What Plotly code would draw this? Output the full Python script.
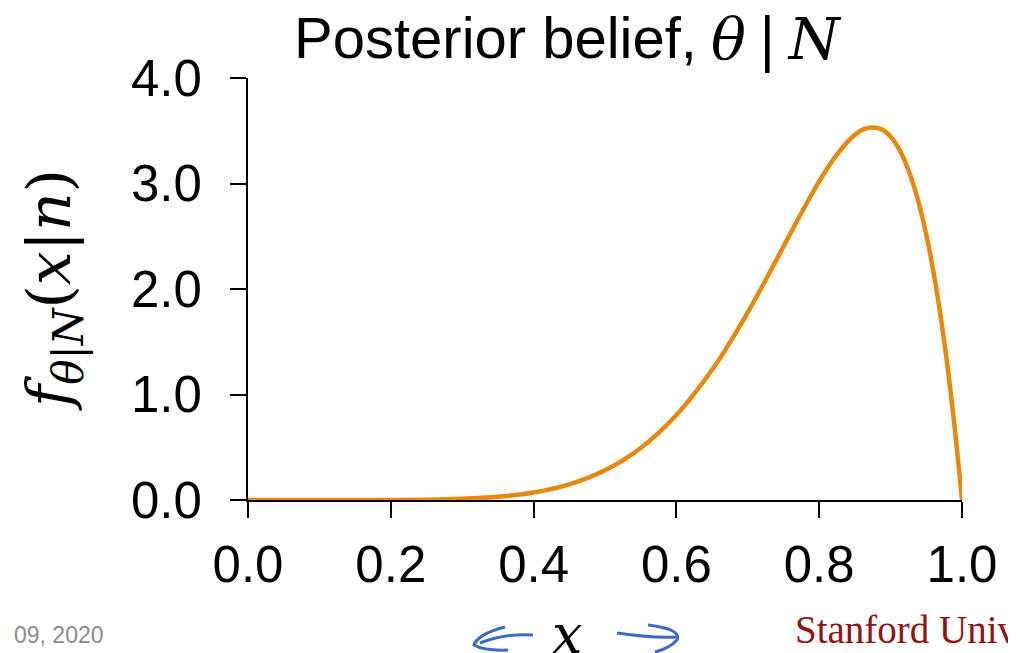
import plotly.graph_objects as go

# Values
x_vals = [0.0, 0.05, 0.10, 0.15, 0.20, 0.25, 0.30, 0.35, 0.40, 0.45, 0.50,
          0.55, 0.60, 0.65, 0.675, 0.70, 0.725, 0.75, 0.775, 0.80, 0.825,
          0.85, 0.8625, 0.875, 0.8875, 0.90, 0.9125, 0.925, 0.9375,
          0.95, 0.9625, 0.975, 0.9875, 1.0]
density = [0.0, 0.0, 0.0, 0.0, 0.0003, 0.003, 0.011, 0.030, 0.071, 0.148, 0.281,
           0.493, 0.806, 1.235, 1.494, 1.779, 2.085, 2.403, 2.720, 3.020, 3.277,
           3.463, 3.515, 3.530, 3.513, 3.444, 3.319, 3.126, 2.864,
           2.514, 2.066, 1.508, 0.824, 0.0]
x_ticks = [0.0, 0.2, 0.4, 0.6, 0.8, 1.0]
x_tick_text = ["0.0", "0.2", "0.4", "0.6", "0.8", "1.0"]
y_ticks = [0.0, 1.0, 2.0, 3.0, 4.0]
y_tick_text = ["0.0", "1.0", "2.0", "3.0", "4.0"]

OFF = 8  # page body margin
W, H = 1016 - OFF, 653 - OFF
L, T = 248 - OFF, 78 - OFF
R = W - (962 - OFF)
B = H - (500 - OFF)
PW = W - L - R
PH = H - T - B

ORANGE = "#E8890F"
MATH = "DejaVu Serif"
SANS = "Liberation Sans"

fig = go.Figure()
fig.add_trace(go.Scatter(
    x=x_vals, y=density, mode="lines",
    line=dict(color=ORANGE, width=4.5, shape="spline", smoothing=1.0),
    cliponaxis=False, hoverinfo="skip", showlegend=False,
))


def pxx(px):
    return (px - OFF - L) / PW


def pxy(py):
    return (H - B - (py - OFF)) / PH


annotations = [
    dict(text="Posterior belief,",
         x=pxx(292), y=pxy(37), xref="paper", yref="paper",
         xanchor="left", yanchor="middle", showarrow=False,
         font=dict(family=SANS, size=58, color="black")),
    dict(text="<i>θ</i>\u2009|\u2009<i>N</i>",
         x=pxx(776), y=pxy(39), xref="paper", yref="paper",
         xanchor="center", yanchor="middle", showarrow=False,
         font=dict(family=MATH, size=58, color="black")),
    dict(text="<i>f</i><sub><i>θ</i>|<i>N</i></sub>(<i>x</i>|<i>n</i>)",
         x=pxx(53), y=pxy(290), xref="paper", yref="paper",
         xanchor="center", yanchor="middle", textangle=-90, showarrow=False,
         font=dict(family=MATH, size=60, color="black")),
    dict(text="<i>x</i>",
         x=pxx(567), y=pxy(634), xref="paper", yref="paper",
         xanchor="center", yanchor="middle", showarrow=False,
         font=dict(family=MATH, size=54, color="black")),
    dict(text="09, 2020",
         x=pxx(12), y=pxy(635), xref="paper", yref="paper",
         xanchor="left", yanchor="middle", showarrow=False,
         font=dict(family=SANS, size=23, color="#8C8C8C")),
    dict(text="Stanford University",
         x=pxx(793), y=pxy(630), xref="paper", yref="paper",
         xanchor="left", yanchor="middle", showarrow=False,
         font=dict(family="Liberation Serif", size=39, color="#8C1515")),
]


def path_px(cmds):
    out = []
    for cmd, pts in cmds:
        coords = " ".join(f"{pxx(a):.5f},{pxy(b):.5f}" for a, b in pts)
        out.append(f"{cmd} {coords}")
    return " ".join(out)


BLUE = "#3A6BC6"
arrow_paths = [
    path_px([("M", [(533, 635)]), ("Q", [(505, 633), (480, 643)])]),
    path_px([("M", [(505, 627)]), ("Q", [(478, 634), (474, 645)]), ("Q", [(484, 651), (508, 650)])]),
    path_px([("M", [(617, 633)]), ("Q", [(650, 638), (677, 637)])]),
    path_px([("M", [(648, 625)]), ("Q", [(682, 629), (677, 640)]), ("Q", [(670, 648), (655, 652)])]),
]
shapes = [dict(type="path", xref="paper", yref="paper", path=p,
               line=dict(color=BLUE, width=3)) for p in arrow_paths]

axis_font = dict(family=SANS, size=51, color="black")
fig.update_layout(
    width=W, height=H,
    margin=dict(l=L, r=R, t=T, b=B, pad=0),
    paper_bgcolor="white", plot_bgcolor="white",
    font=dict(family=SANS, color="black"),
    annotations=annotations, shapes=shapes,
    xaxis=dict(range=[0, 1], tickvals=x_ticks, ticktext=x_tick_text,
               showgrid=False, zeroline=False, showline=True, linecolor="black",
               linewidth=2, ticks="outside", ticklen=16, tickwidth=2, tickcolor="black",
               tickfont=axis_font, layer="below traces", ticklabelstandoff=3),
    yaxis=dict(range=[0, 4], tickvals=y_ticks, ticktext=y_tick_text,
               showgrid=False, zeroline=False, showline=True, linecolor="black",
               linewidth=2, ticks="outside", ticklen=16, tickwidth=2, tickcolor="black",
               tickfont=axis_font, layer="below traces", ticklabelstandoff=18),
)

fig.write_html("out.html")
